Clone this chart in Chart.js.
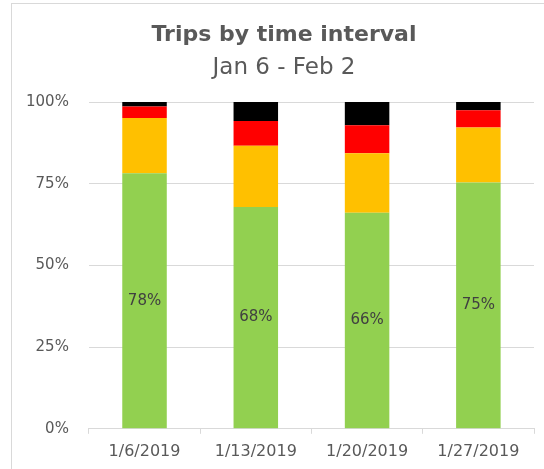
<!DOCTYPE html>
<html>
<head>
<meta charset="utf-8">
<script src="https://cdn.jsdelivr.net/npm/chart.js@4/dist/chart.umd.min.js"></script>
<style>
  body { margin: 0; background: #fff; }
  canvas { display: block; }
</style>
</head>
<body>
<canvas id="myChart" width="544" height="469"></canvas>
<script>
// weeks and share of trips per time interval (percent, each week sums to 100)
const weeks = ["1/6/2019", "1/13/2019", "1/20/2019", "1/27/2019"]
const greenShare = [78.2, 67.9, 66.1, 75.4]
const orangeShare = [16.9, 18.7, 18.2, 16.8]
const redShare = [3.5, 7.6, 8.6, 5.3]
const blackShare = [1.4, 5.8, 7.1, 2.5]
const yTicks = [0, 25, 50, 75, 100]

const textColor = '#595959'
const gridColor = '#d9d9d9'
Chart.defaults.font.family = "'DejaVu Sans', Verdana, sans-serif"

// outer frame like the spreadsheet chart box
const framePlugin = {
  id: 'frame',
  beforeDraw(chart) {
    const ctx = chart.ctx
    ctx.save()
    ctx.fillStyle = '#fff'
    ctx.fillRect(0, 0, chart.width, chart.height)
    ctx.strokeStyle = gridColor
    ctx.lineWidth = 1
    ctx.strokeRect(11.5, 3.5, 700, 700)
    ctx.restore()
  }
}

// the frame runs past the right edge, so its titles sit a bit right of the canvas centre
const titleShift = {
  id: 'titleShift',
  afterLayout(chart) {
    chart.boxes.forEach(box => {
      if (box.options && box.options.text) {
        box.left += 14
        box.right += 14
      }
    })
  }
}

// percentage labels inside the green segment only
const greenLabels = {
  id: 'greenLabels',
  afterDatasetsDraw(chart) {
    const ctx = chart.ctx
    const meta = chart.getDatasetMeta(0)
    ctx.save()
    ctx.font = "15px 'DejaVu Sans', Verdana, sans-serif"
    ctx.fillStyle = '#404040'
    ctx.textAlign = 'center'
    ctx.textBaseline = 'middle'
    meta.data.forEach((bar, i) => {
      const p = bar.getCenterPoint()
      ctx.fillText(Math.round(greenShare[i]) + '%', p.x, p.y)
    })
    ctx.restore()
  }
}

const ctx = document.getElementById('myChart').getContext('2d')
const myChart = new Chart(ctx, {
  type: 'bar',
  data: {
    labels: weeks,
    datasets: [
      { label: 'green', backgroundColor: '#92d050', data: greenShare },
      { label: 'orange', backgroundColor: '#ffc000', data: orangeShare },
      { label: 'red', backgroundColor: '#ff0000', data: redShare },
      { label: 'black', backgroundColor: '#000000', data: blackShare }
    ]
  },
  options: {
    responsive: false,
    animation: false,
    layout: { padding: { left: 6, right: 10, top: 22, bottom: 0 } },
    datasets: { bar: { barPercentage: 0.4, categoryPercentage: 1 } },
    plugins: {
      legend: { display: false },
      tooltip: { enabled: false },
      title: {
        display: true,
        text: 'Trips by time interval',
        color: textColor,
        font: { size: 22, weight: 'bold' },
        padding: { top: 0, bottom: 6 }
      },
      subtitle: {
        display: true,
        text: 'Jan 6 - Feb 2',
        color: textColor,
        font: { size: 23, weight: 'normal' },
        padding: { top: 0, bottom: 20 }
      }
    },
    scales: {
      x: {
        stacked: true,
        grid: { drawOnChartArea: false, drawTicks: true, tickLength: 5, color: gridColor },
        border: { display: true, color: gridColor },
        ticks: { color: textColor, font: { size: 16 }, padding: 8 }
      },
      y: {
        stacked: true,
        min: 0,
        max: 100,
        afterBuildTicks(scale) {
          scale.ticks = yTicks.map(v => ({ value: v }))
        },
        grid: { color: gridColor, drawTicks: false },
        border: { display: false },
        ticks: {
          color: textColor,
          font: { size: 15 },
          padding: 20,
          callback: v => v + '%'
        }
      }
    }
  },
  plugins: [framePlugin, titleShift, greenLabels]
})
</script>
</body>
</html>
